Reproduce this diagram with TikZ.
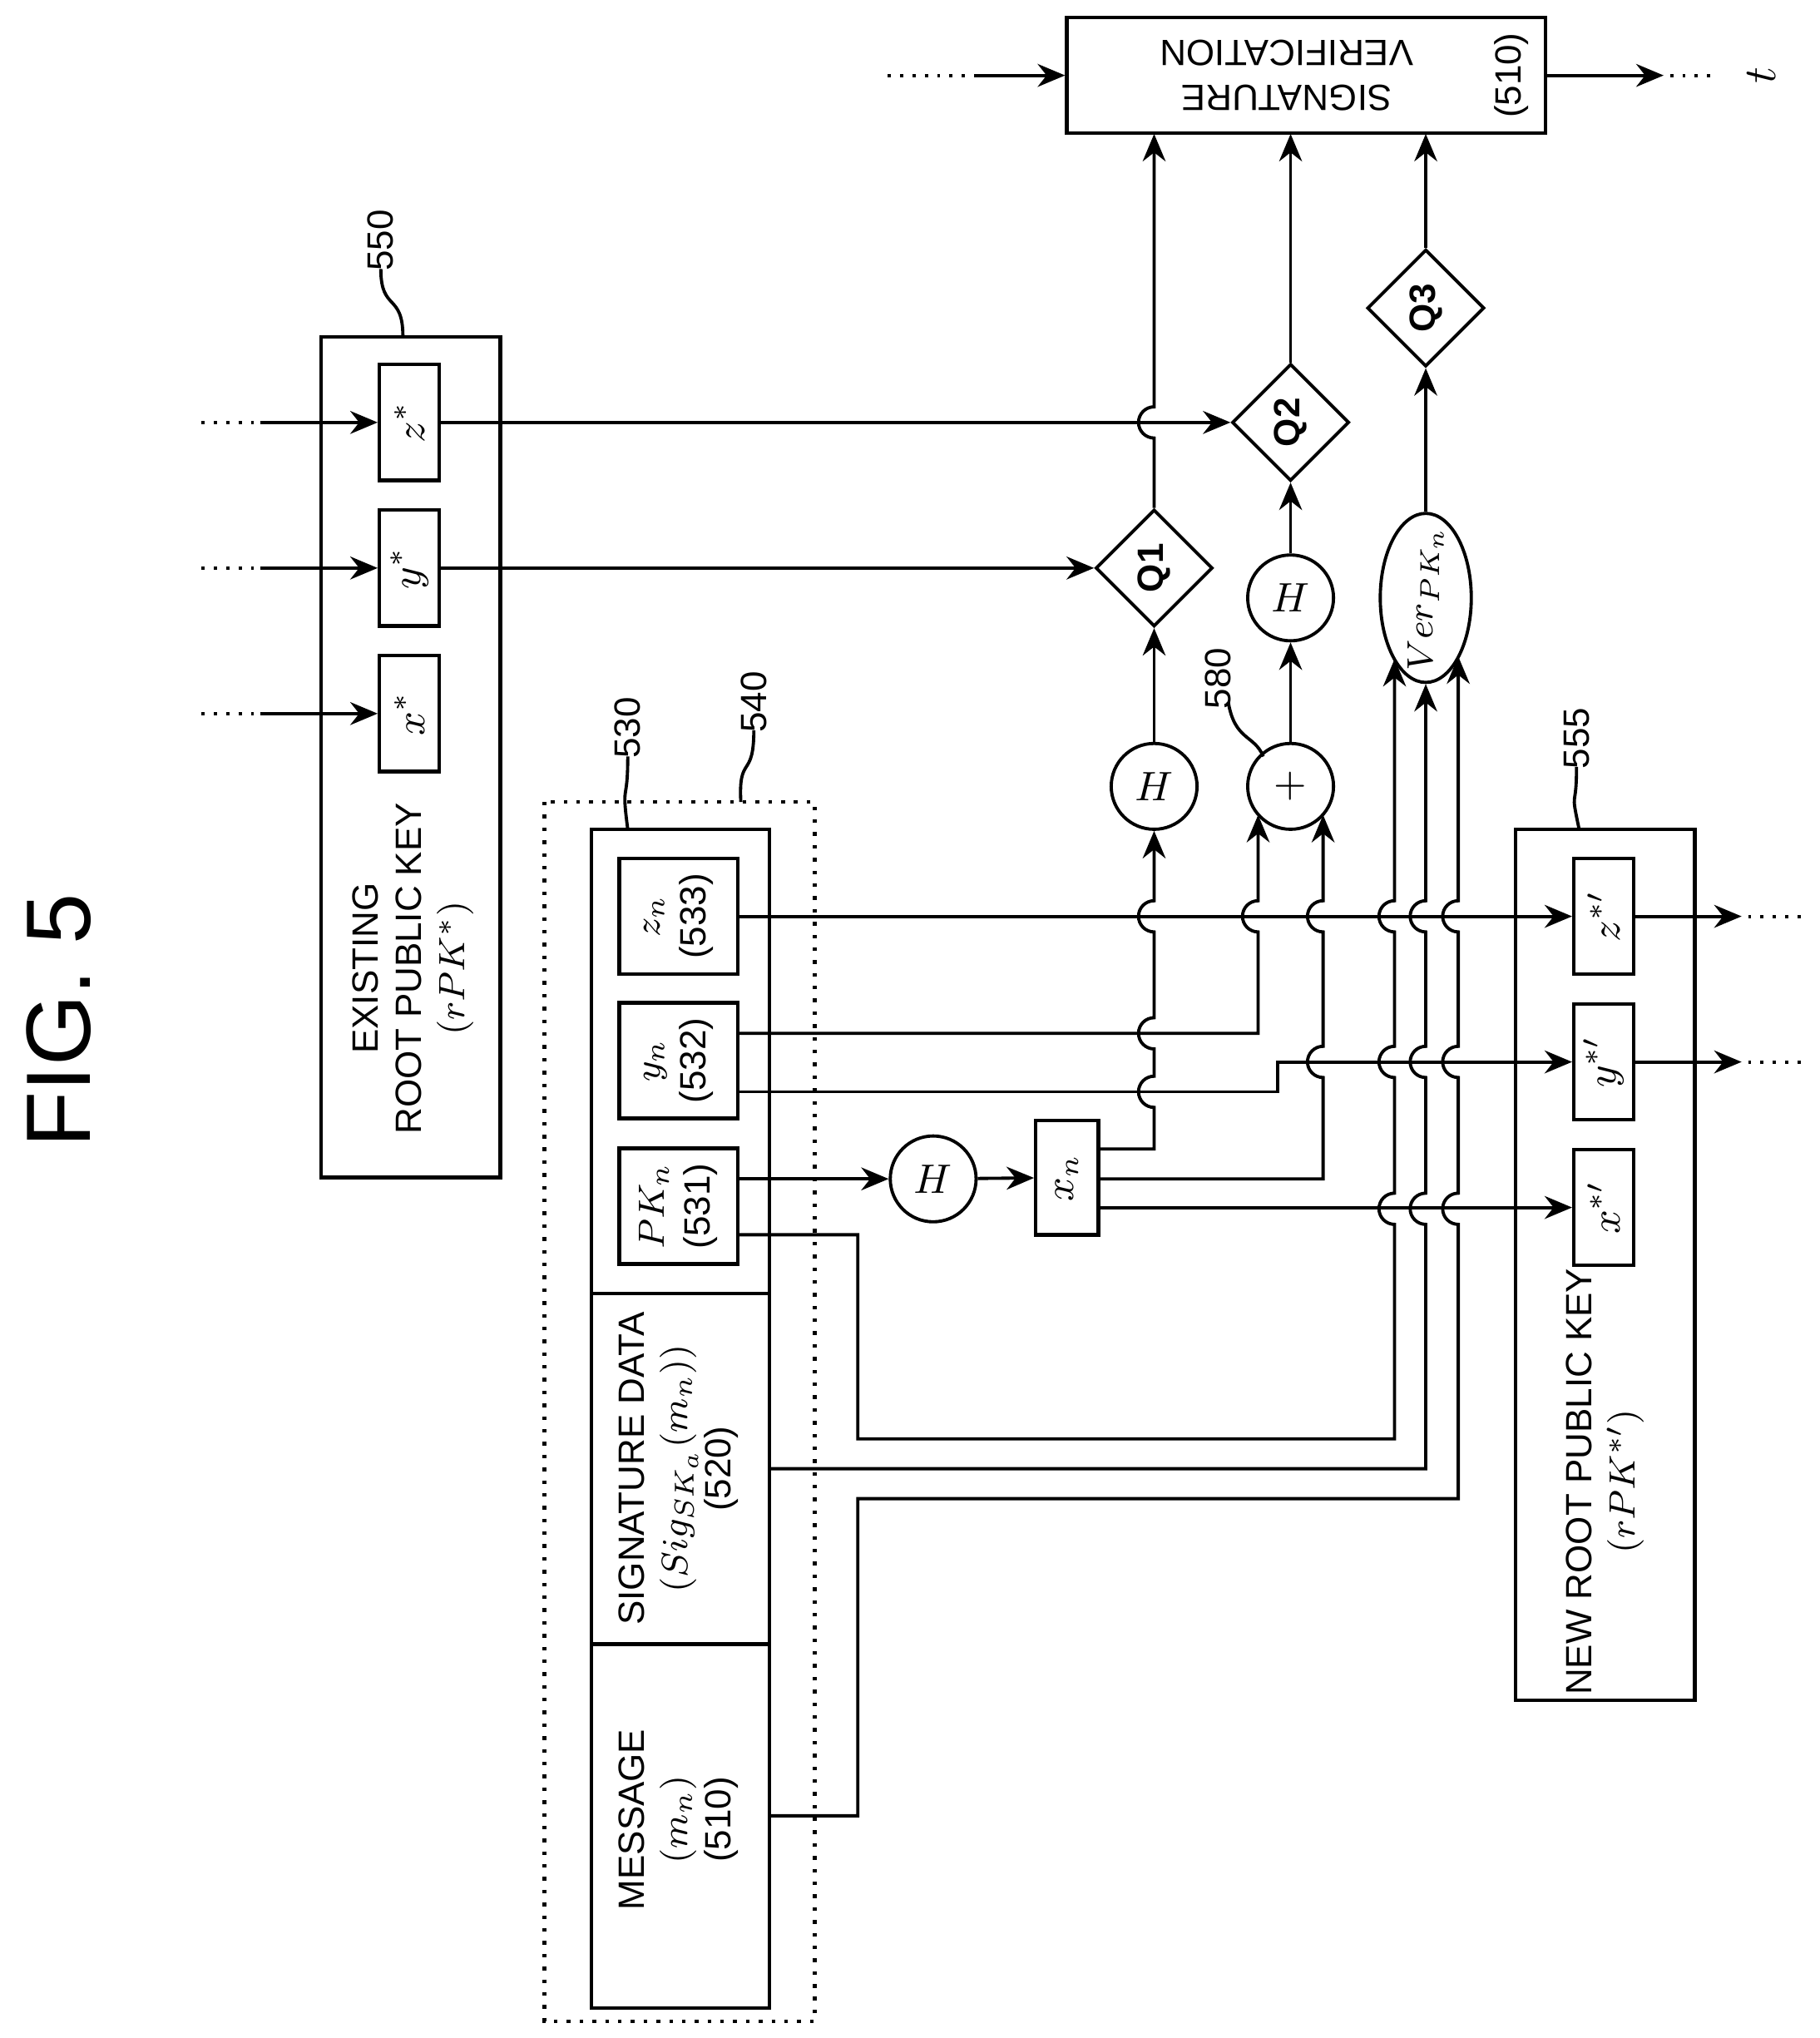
\documentclass[tikz,border=0pt]{standalone}
\usepackage{fontspec}
\setsansfont{Liberation Sans}
\setmainfont{Liberation Serif}
\usetikzlibrary{arrows.meta}
\usetikzlibrary{shapes.geometric}
\tikzstyle{lbl}=[font=\sffamily\fontsize{8}{9.5}\selectfont,align=center,rotate=90]
\tikzstyle{keybox}=[draw,thick,rotate=90,minimum width=0.89cm,minimum height=0.46cm,inner sep=1pt,font=\small]
\tikzstyle{idbox}=[keybox,minimum height=0.91cm,align=center,font=\sffamily\fontsize{8}{10}\selectfont]
\tikzstyle{op}=[draw,circle,minimum size=0.66cm,inner sep=0pt,font=\small]
\tikzstyle{test}=[draw,diamond,aspect=1,minimum width=0.9cm,minimum height=0.9cm,inner sep=0pt,
                  rotate=90,font=\sffamily\bfseries\fontsize{8}{9}\selectfont]
\tikzstyle{myarrow}=[-{Stealth[length=6pt,width=5pt]}]
\tikzstyle{ref}=[font=\sffamily\fontsize{8}{9}\selectfont,rotate=90]
\newcommand{\hop}{arc[start angle=270,end angle=90,radius=0.12cm]}

\begin{document}
\begin{tikzpicture}[x=0.01cm,y=-0.01cm,line width=0.7pt]
  \useasboundingbox (0,0) rectangle (1400,1568);

  % title
  \node[rotate=90,font=\sffamily\fontsize{20}{22}\selectfont] (fig) at (45,785) {FIG. 5};

  % 550
  \draw[thick] (247,259) rectangle (385,906);
  \node[lbl] (l550) at (318,745) {EXISTING\\ROOT PUBLIC KEY\\$(rPK^*)$};
  \node[keybox] (zs) at (315,325) {$z^*$};
  \node[keybox] (ys) at (315,437) {$y^*$};
  \node[keybox] (xs) at (315,549) {$x^*$};
  \node[ref] (r550) at (293,185) {550};
  \draw (293,207) .. controls (293,240) and (310,225) .. (310,259);
  \foreach \n/\y in {zs/325,ys/437,xs/549}{
    \draw[dotted] (155,\y) -- (200,\y);
    \draw[myarrow] (200,\y) -- (\n);
  }

  % 540 / 530
  \draw[dotted,thick] (419,617) rectangle (627,1555);
  \draw[thick] (455,638) rectangle (592,1545);
  \draw[thick] (455,995) -- (592,995) (455,1265) -- (592,1265);
  \node[ref] (r540) at (580,540) {540};
  \draw (580,562) .. controls (580,600) and (568,580) .. (570,617);
  \node[ref] (r530) at (483,560) {530};
  \draw (483,582) .. controls (483,620) and (478,600) .. (483,638);
  \node[idbox] (z533) at (522,705) {$z_n$\\(533)};
  \node[idbox] (y532) at (522,816) {$y_n$\\(532)};
  \node[idbox] (pk531) at (522,928) {$PK_n$\\(531)};
  \node[lbl] (sig) at (522,1130) {SIGNATURE DATA\\$(Sig_{SK_a}(m_n))$\\(520)};
  \node[lbl] (msg) at (522,1400) {MESSAGE\\$(m_n)$\\(510)};

  % 555
  \draw[thick] (1166,638) rectangle (1304,1308);
  \node[lbl] (l555) at (1235,1140) {NEW ROOT PUBLIC KEY\\$(rPK^{*\prime})$};
  \node[keybox] (zn) at (1234,705) {$z^{*\prime}$};
  \node[keybox] (yn) at (1234,817) {$y^{*\prime}$};
  \node[keybox] (xn) at (1234,929) {$x^{*\prime}$};
  \node[ref] (r555) at (1213,568) {555};
  \draw (1213,590) .. controls (1213,625) and (1208,605) .. (1215,638);
  \foreach \y in {705,817}{
    \draw[myarrow] (1257,\y) -- (1340,\y);
    \draw[dotted] (1345,\y) -- (1392,\y);
  }

  % signature verification
  \node[draw,thick,minimum width=3.68cm,minimum height=0.89cm] (sv) at (1005,58) {};
  \node[rotate=180,align=center,font=\sffamily\fontsize{8}{10}\selectfont] (svt) at (990,58) {SIGNATURE\\VERIFICATION};
  \node[ref] (svr) at (1163,58) {(510)};
  \draw[dotted] (683,58) -- (750,58);
  \draw[myarrow] (750,58) -- (sv);
  \draw[myarrow] (sv) -- (1280,58);
  \draw[dotted] (1285,58) -- (1322,58);
  \node[rotate=90] (t) at (1355,58) {$t$};

  % operators
  \node[op] (h0) at (718,907) {$H$};
  \node[draw,thick,minimum width=0.48cm,minimum height=0.88cm] (xnb) at (821,906) {};
  \node[rotate=90,font=\small] at (xnb) {$x_n$};
  \node[op] (h1) at (888,605) {$H$};
  \node[op] (plus) at (993,605) {$+$};
  \node[op] (h2) at (993,460) {$H$};
  \node[test] (q1) at (888,437) {Q1};
  \node[test] (q2) at (993,325) {Q2};
  \node[test] (q3) at (1097,237) {Q3};
  \node[draw,ellipse,minimum width=0.7cm,minimum height=1.3cm,inner sep=0pt] (ver) at (1097,460) {};
  \node[rotate=90,font=\footnotesize] at (ver) {$Ver_{PK_n}$};
  \node[ref] (r580) at (937,522) {580};
  \draw (945,540) .. controls (950,570) and (965,565) .. (972,582);

  % connectors
  \draw[myarrow] (pk531.south |- 0,907) -- (h0);
  \draw[myarrow] (h0) -- (xnb);
  \draw[myarrow] (845,884) -- (888,884) -- (888,852) \hop -- (888,807) \hop -- (888,717) \hop -- (h1);
  \draw[myarrow] (h1) -- (q1);
  \draw[myarrow] (q1) -- (888,337) \hop -- (888,103);
  \draw[myarrow] (ys) -- (q1);
  \draw[myarrow] (zs) -- (q2);
  \draw[myarrow] (568,795) -- (968,795) -- (968,717) \hop -- (968,627);
  \draw[myarrow] (845,907) -- (1018,907) -- (1018,829) \hop -- (1018,717) \hop -- (1018,627);
  \draw[myarrow] (plus) -- (h2);
  \draw[myarrow] (h2) -- (q2);
  \draw[myarrow] (q2) -- (993,103);
  \draw[myarrow] (568,705) -- (zn);
  \draw[myarrow] (568,840) -- (983,840) -- (983,817) -- (yn);
  \draw[myarrow] (845,929) -- (xn);
  \draw[myarrow] (568,950) -- (660,950) -- (660,1107) -- (1073,1107) -- (1073,942) \hop
    -- (1073,829) \hop -- (1073,717) \hop -- (1073,507);
  \draw[myarrow] (592,1130) -- (1097,1130) -- (1097,942) \hop
    -- (1097,829) \hop -- (1097,717) \hop -- (ver);
  \draw[myarrow] (592,1397) -- (660,1397) -- (660,1153) -- (1122,1153) -- (1122,942) \hop
    -- (1122,829) \hop -- (1122,717) \hop -- (1122,505);
  \draw[myarrow] (ver) -- (q3);
  \draw[myarrow] (q3) -- (1097,103);
\end{tikzpicture}
\end{document}
